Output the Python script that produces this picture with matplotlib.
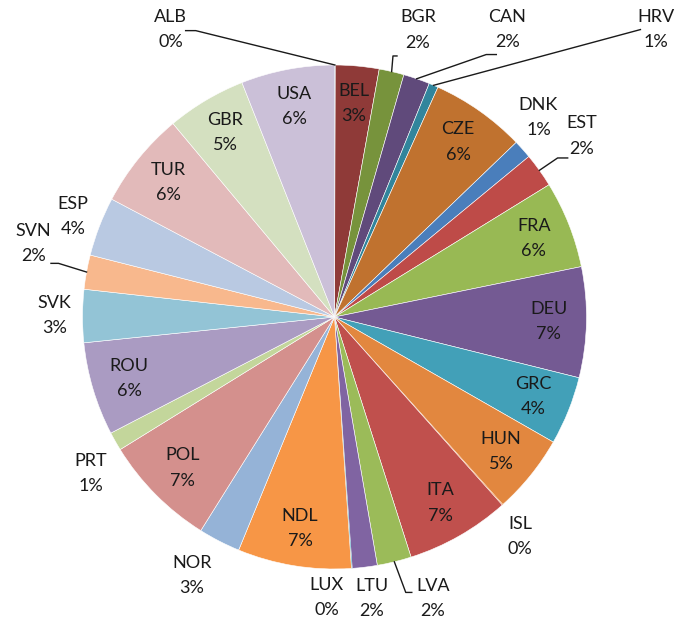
import matplotlib.pyplot as plt
import numpy as np

plt.rcParams['font.family'] = ['Lato', 'DejaVu Sans']

countries = ['ALB', 'BEL', 'BGR', 'CAN', 'HRV', 'CZE', 'DNK', 'EST', 'FRA', 'DEU',
             'GRC', 'HUN', 'ISL', 'ITA', 'LVA', 'LTU', 'LUX', 'NDL', 'NOR', 'POL',
             'PRT', 'ROU', 'SVK', 'SVN', 'ESP', 'TUR', 'GBR', 'USA']
shares = [0.05, 2.8, 1.6, 1.7, 0.6, 6.1, 1.2, 2.2, 5.6, 7.1,
          4.4, 5.1, 0.05, 6.7, 2.2, 1.6, 0.05, 7.3, 2.7, 7.3,
          1.2, 6.0, 3.4, 2.2, 3.8, 6.2, 5.1, 6.0]
colors = ['#4F81BD', '#8F3A38', '#77933C', '#604A7B', '#31859C', '#C0722F',
          '#4A7EBB', '#BE4B48', '#98B954', '#745A93', '#42A0B8', '#E2873F',
          '#F79646', '#C0504D', '#9BBB59', '#8064A2', '#4BACC6', '#F79646',
          '#95B3D7', '#D4908D', '#C3D69B', '#AA9BC2', '#93C4D6', '#F8B88D',
          '#B9C9E2', '#E2BABA', '#D4E0C0', '#CBC0D8']

# labels placed outside the pie: (radius, clockwise shift from wedge middle in deg)
outside = {'ALB': (1.313, -29.8), 'BGR': (1.186, 3.1), 'CAN': (1.331, 12.0),
           'HRV': (1.71, 25.0), 'DNK': (1.133, -2.7), 'EST': (1.216, -0.6),
           'ISL': (1.141, 1.6), 'LVA': (1.183, -5.5), 'LTU': (1.126, -0.6),
           'LUX': (1.115, 5.6), 'NOR': (1.171, 1.7), 'PRT': (1.15, -3.1),
           'SVK': (1.11, 0.0), 'SVN': (1.23, 3.4), 'ESP': (1.113, 0.0)}
# leader lines: start offset from label centre, then horizontal elbow
leaders = {'ALB': (0.06, -0.004, 0.04), 'BGR': (-0.083, -0.103, -0.016),
           'CAN': (-0.044, -0.099, -0.04), 'HRV': (-0.06, 0.0, 0.0),
           'EST': (-0.056, -0.087, -0.04), 'SVN': (0.07, -0.078, 0.03),
           'LVA': (-0.083, 0.024, -0.024)}

W, H = 680, 624
R = 252
cx, cy = 334.5, 317
fig = plt.figure(figsize=(W / 100, H / 100), dpi=100)
ax = fig.add_axes([(cx - R) / W, (H - cy - R) / H, 2 * R / W, 2 * R / H])

wedges, _ = ax.pie(shares, colors=colors, startangle=90, counterclock=False,
                   wedgeprops=dict(edgecolor='white', linewidth=0.4))
ax.set_xlim(-1, 1)
ax.set_ylim(-1, 1)
ax.axis('off')

total = sum(shares)
for w, name, val in zip(wedges, countries, shares):
    if val < 0.1:
        w.set_linewidth(0)  # near-empty slices: no white stripe
    mid = np.deg2rad((w.theta1 + w.theta2) / 2)
    r, shift = outside.get(name, (0.85, 0.0))
    a = mid - np.deg2rad(shift)
    x, y = r * np.cos(a), r * np.sin(a)
    ax.text(x, y, f'{name}\n{round(val / total * 100):.0f}%', ha='center', va='center',
            fontsize=13, linespacing=1.7, color='#1a1a1a', clip_on=False)
    if name in leaders:
        dx, dy, el = leaders[name]
        sx, sy = x + dx, y + dy
        ax.plot([sx, sx + el, np.cos(mid)], [sy, sy, np.sin(mid)],
                color='#1a1a1a', lw=1.0, clip_on=False)

fig.savefig('out.png', dpi=100)
